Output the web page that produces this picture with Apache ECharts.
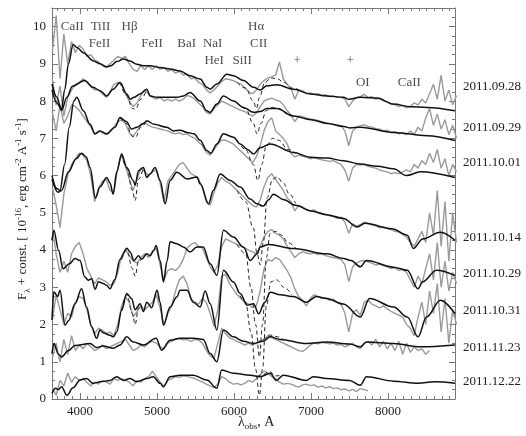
<!DOCTYPE html>
<html>
<head>
<meta charset="utf-8">
<script src="https://cdn.jsdelivr.net/npm/echarts@6/dist/echarts.min.js"></script>
<style>
html, body { margin: 0; padding: 0; background: #fff; }
#main { width: 526px; height: 436px; }
</style>
</head>
<body>
<div id="main"></div>
<script>
// wavelength grid of the observed (grey) spectra
var wl = [3640,3690,3740,3790,3840,3890,3940,3990,4040,4090,
	4140,4190,4240,4290,4340,4390,4440,4490,4540,4590,
	4640,4690,4740,4790,4840,4890,4940,4990,5040,5090,
	5140,5190,5240,5290,5340,5390,5440,5490,5540,5590,
	5640,5690,5740,5790,5840,5890,5940,5990,6040,6090,
	6140,6190,6240,6290,6340,6390,6440,6490,6540,6590,
	6640,6690,6740,6790,6840,6890,6940,6990,7040,7090,
	7140,7190,7240,7290,7340,7390,7440,7490,7540,7590,
	7640,7690,7740,7790,7840,7890,7940,7990,8040,8090,
	8140,8190,8240,8290,8340,8390,8440,8490,8540,8590,
	8640,8690,8740,8790,8840,8890];

// observed spectra, flux + const
var obs0928 = [9.3,10.3,8.6,9.8,9.0,9.6,9.3,9.5,9.4,9.2,
	9.25,9.1,9.05,8.95,8.9,9.0,9.1,9.2,9.15,9.2,
	9.0,8.85,8.8,8.95,8.85,8.95,8.85,8.95,8.85,8.9,
	8.8,8.85,8.75,8.8,8.7,8.72,8.6,8.62,8.5,8.45,
	8.3,8.22,8.3,8.42,8.52,8.6,8.58,8.55,8.5,8.45,
	8.35,8.25,8.2,8.3,8.45,8.55,8.62,8.65,8.7,9.05,
	8.6,8.45,8.35,8.05,8.3,8.28,8.2,8.22,8.18,8.2,
	8.15,8.17,8.12,8.14,8.1,8.1,8.05,7.85,8.0,8.1,
	8.12,8.18,8.1,8.12,8.05,8.08,8.0,7.98,7.92,7.9,
	7.85,7.88,7.82,7.86,7.95,7.9,8.05,7.95,8.2,8.45,
	8.05,8.7,8.0,8.3,7.9,8.15];
var obs0929 = [8.6,7.9,8.4,7.6,8.1,8.3,8.45,8.5,8.6,8.5,
	8.4,8.3,8.3,8.2,8.1,8.25,8.45,8.5,8.45,8.2,
	8.0,7.85,7.95,8.15,8.3,8.2,8.1,8.05,8.1,8.0,
	8.05,8.0,8.05,8.0,8.05,8.15,8.12,8.05,7.95,7.85,
	7.7,7.65,7.8,7.9,8.0,7.95,7.9,7.85,7.8,7.75,
	7.72,7.65,7.6,7.68,7.85,8.0,8.05,8.08,8.03,8.0,
	7.9,7.75,7.62,7.45,7.6,7.58,7.55,7.52,7.5,7.48,
	7.45,7.42,7.4,7.38,7.35,7.34,7.2,6.8,7.2,7.3,
	7.34,7.36,7.32,7.3,7.26,7.25,7.2,7.22,7.15,7.18,
	7.12,7.15,7.1,7.2,7.1,7.3,7.2,7.55,7.8,7.35,
	7.65,7.25,7.5,7.1,7.35,7.0];
var obs1001 = [7.7,7.2,7.9,7.4,7.6,7.9,7.85,7.75,7.6,7.45,
	7.3,7.1,7.2,7.15,7.1,7.2,7.3,7.45,7.5,7.4,
	7.15,7.05,7.2,7.35,7.42,7.35,7.3,7.28,7.25,7.22,
	7.2,7.15,7.12,7.15,7.1,7.12,7.05,7.0,6.9,6.8,
	6.62,6.55,6.7,6.85,6.95,6.95,6.9,6.85,6.75,6.65,
	6.55,6.45,6.35,6.5,6.8,7.2,7.45,7.55,7.2,7.1,
	7.0,6.85,6.6,6.5,6.55,6.52,6.5,6.45,6.48,6.45,
	6.42,6.4,6.38,6.4,6.35,6.3,6.15,5.85,6.2,6.3,
	6.28,6.3,6.25,6.22,6.2,6.15,6.12,6.1,6.05,6.08,
	6.05,6.1,6.15,6.1,6.3,6.2,6.4,6.3,6.6,6.35,
	6.7,6.2,6.45,6.0,6.3,6.1];
var obs1014 = [5.7,5.2,4.6,5.5,6.0,6.3,6.45,6.6,6.55,6.4,
	6.0,5.3,5.65,5.85,5.9,5.6,5.55,6.2,6.55,6.25,
	5.9,5.6,5.9,6.2,6.1,6.0,6.1,6.15,5.8,5.3,
	5.85,6.0,6.15,6.3,6.35,6.2,6.05,6.0,5.9,5.7,
	5.3,5.2,5.55,5.8,5.95,5.85,5.8,5.7,5.6,5.5,
	5.4,5.3,5.2,5.15,5.35,5.7,5.95,6.05,5.9,5.75,
	5.6,5.4,5.3,5.05,5.2,5.15,5.1,5.05,5.08,5.0,
	4.98,4.95,4.92,4.9,4.85,4.88,4.75,4.45,4.7,4.65,
	4.68,4.75,4.72,4.68,4.65,4.6,4.62,4.58,4.55,4.5,
	4.48,4.42,4.35,4.2,4.1,4.3,4.5,4.2,5.0,4.4,
	5.6,4.1,5.3,3.7,5.0,4.2];
var obs1029 = [4.6,3.9,3.4,3.7,3.4,3.9,4.1,4.2,3.9,3.5,
	3.3,3.1,3.25,3.2,3.15,3.05,3.1,3.4,3.85,4.0,
	3.85,3.7,3.65,3.8,3.9,3.8,3.95,4.05,3.6,3.2,
	3.45,3.5,3.45,3.55,3.75,4.05,4.15,4.2,4.1,4.05,
	3.8,3.55,3.4,3.6,4.1,4.3,4.25,4.2,4.15,4.1,
	4.05,4.0,3.95,3.9,4.1,4.35,4.5,4.55,4.45,4.4,
	4.3,4.1,3.95,3.8,3.9,3.95,3.92,3.9,3.92,3.88,
	3.9,3.85,3.82,3.8,3.78,3.75,3.6,3.15,3.55,3.65,
	3.7,3.72,3.68,3.65,3.6,3.62,3.58,3.55,3.5,3.52,
	3.45,3.48,3.4,3.2,3.0,3.3,3.1,3.5,3.9,3.2,
	4.2,3.0,3.7,2.9,3.4,3.1];
var obs1031 = [2.1,2.8,2.4,2.0,2.3,2.2,2.6,2.75,2.7,2.4,
	2.0,1.75,1.9,1.85,1.75,1.8,1.7,2.0,2.5,2.75,
	2.6,2.2,2.35,2.5,2.4,2.5,2.6,2.8,2.45,2.0,
	2.3,2.5,2.9,3.2,3.3,3.1,2.7,2.6,2.55,2.7,
	2.6,2.3,1.95,2.4,3.3,3.35,3.1,2.95,2.8,2.7,
	2.6,2.55,2.45,2.5,2.9,3.5,3.75,3.7,3.8,3.75,
	3.6,3.45,3.25,2.95,2.75,2.65,2.5,2.7,2.8,2.75,
	2.7,2.72,2.65,2.68,2.6,2.55,2.3,1.8,2.3,2.4,
	2.25,2.6,2.65,2.55,2.5,2.45,2.5,2.42,2.35,2.3,
	2.25,2.2,2.0,1.9,1.7,2.2,2.6,2.0,2.9,2.3,
	3.1,1.8,2.7,1.5,2.4,2.0];
var obs1123 = [1.1,1.5,1.0,1.6,1.2,1.7,1.3,1.45,1.35,1.5,
	1.4,1.3,1.35,1.45,1.35,1.4,1.45,1.5,1.55,1.6,
	1.45,1.3,1.35,1.45,1.4,1.5,1.55,1.5,1.4,1.35,
	1.5,1.55,1.6,1.62,1.58,1.6,1.55,1.6,1.58,1.5,
	1.3,1.15,1.1,1.5,1.9,1.75,1.65,1.6,1.55,1.5,
	1.45,1.5,1.45,1.5,1.55,1.6,1.7,1.65,1.6,1.55,
	1.5,1.45,1.4,1.35,1.3,1.28,1.35,1.45,1.5,1.48,
	1.52,1.5,1.48,1.5,1.45,1.47,1.4,1.45,1.5,1.4,
	1.35,1.5,1.55,1.45,1.6,1.4,1.55,1.35,1.5,1.3,
	1.55,1.2,1.5,1.25,1.4,1.3,1.35,1.2,1.3];
var obs1222 = [0.3,0.1,0.5,0.35,0.7,0.45,0.6,0.5,0.55,0.45,
	0.35,0.45,0.4,0.5,0.45,0.4,0.55,0.5,0.55,0.5,
	0.45,0.35,0.5,0.45,0.55,0.6,0.75,0.6,0.45,0.35,
	0.5,0.55,0.6,0.58,0.62,0.6,0.58,0.55,0.5,0.45,
	0.4,0.35,0.3,0.4,0.6,0.55,0.45,0.4,0.42,0.38,
	0.42,0.5,0.45,0.55,0.65,0.75,0.7,0.6,0.55,0.45,
	0.4,0.42,0.4,0.35,0.32,0.38,0.4,0.36,0.38,0.32,
	0.35,0.3,0.33,0.28,0.3,0.25,0.27,0.22,0.26,0.2,
	0.28,0.25,0.22];

// model spectra without hydrogen [wavelength, flux]
var mod0928 = [[3636,8.3],[3700,7.95],[3760,7.78],[3800,8.3],[3850,9.0],[3910,9.52],[3960,9.44],[4043,9.3],[4173,9.08],[4260,9.0],[4347,8.92],[4400,8.95],[4477,9.06],[4563,9.13],[4650,9.08],[4737,8.99],[4823,8.95],[4910,8.95],[5040,8.9],[5170,8.86],[5300,8.81],[5430,8.68],[5560,8.59],[5647,8.37],[5690,8.32],[5777,8.46],[5907,8.72],[5993,8.68],[6123,8.55],[6253,8.37],[6340,8.3],[6427,8.41],[6557,8.44],[6773,8.32],[6990,8.19],[7207,8.14],[7423,8.1],[7490,8.05],[7640,8.1],[7857,8.08],[8073,7.92],[8290,7.85],[8507,7.83],[8870,7.74]];
var mod0929 = [[3636,8.46],[3700,8.1],[3760,7.75],[3830,8.1],[3900,8.4],[4060,8.55],[4170,8.37],[4260,8.28],[4347,8.14],[4430,8.32],[4520,8.5],[4607,8.19],[4650,8.05],[4700,8.1],[4780,8.19],[4867,8.32],[4910,8.14],[5000,8.1],[5127,8.1],[5260,8.1],[5343,8.14],[5430,8.23],[5560,8.0],[5647,7.74],[5690,7.7],[5777,7.92],[5863,8.14],[5993,8.0],[6123,7.83],[6253,7.7],[6340,7.72],[6427,7.8],[6557,7.8],[6773,7.6],[7000,7.5],[7207,7.4],[7430,7.32],[7500,7.28],[7640,7.3],[8073,7.16],[8507,7.07],[8870,6.94]];
var mod1001 = [[3636,6.0],[3700,5.65],[3740,5.6],[3800,6.3],[3860,7.3],[3920,8.0],[3957,8.1],[4043,7.74],[4130,7.38],[4195,7.12],[4260,7.2],[4347,7.12],[4455,7.3],[4520,7.56],[4600,7.45],[4670,7.25],[4740,7.3],[4823,7.4],[4867,7.47],[4960,7.38],[5127,7.3],[5213,7.2],[5300,7.22],[5390,7.16],[5480,7.12],[5560,6.95],[5647,6.67],[5700,6.6],[5777,6.85],[5863,7.12],[5993,7.03],[6080,6.85],[6170,6.71],[6253,6.58],[6340,6.75],[6470,6.85],[6773,6.62],[6990,6.49],[7207,6.47],[7420,6.4],[7640,6.31],[7860,6.25],[8073,6.18],[8240,6.0],[8420,6.1],[8870,5.95]];
var mod1014 = [[3636,5.9],[3714,5.55],[3760,5.6],[3850,6.1],[3950,6.45],[4020,6.6],[4080,6.5],[4130,6.22],[4200,5.4],[4260,5.7],[4347,5.95],[4390,5.8],[4430,5.5],[4477,6.1],[4540,6.58],[4607,6.22],[4690,5.87],[4715,5.75],[4760,6.13],[4823,6.22],[4867,5.95],[4910,6.04],[4975,6.22],[5040,5.87],[5105,5.24],[5170,5.87],[5257,6.09],[5390,5.91],[5520,5.96],[5560,5.78],[5670,5.24],[5730,5.6],[5820,6.04],[5950,5.87],[6080,5.69],[6210,5.37],[6300,5.24],[6380,5.18],[6450,5.35],[6510,5.5],[6650,5.35],[6800,5.2],[7000,5.05],[7200,4.95],[7420,4.85],[7600,4.62],[7700,4.72],[8050,4.57],[8250,4.4],[8330,4.04],[8450,4.3],[8680,4.48],[8870,4.26]];
var mod1029 = [[3636,4.26],[3660,4.53],[3720,4.0],[3780,3.5],[3860,3.63],[3935,3.77],[4000,3.72],[4060,3.28],[4108,3.19],[4150,3.23],[4195,2.95],[4240,3.15],[4300,3.1],[4347,3.05],[4390,2.96],[4450,3.2],[4520,3.75],[4607,4.05],[4650,3.95],[4700,3.72],[4760,3.85],[4800,3.75],[4867,3.9],[4910,3.85],[4960,4.0],[4988,4.12],[5040,3.72],[5083,3.14],[5130,3.7],[5170,4.22],[5257,4.17],[5343,4.08],[5430,3.95],[5517,4.08],[5600,4.08],[5690,3.63],[5777,3.32],[5863,4.53],[5993,4.35],[6123,4.08],[6210,3.72],[6300,3.9],[6340,4.08],[6450,4.15],[6773,4.04],[7207,3.9],[7420,3.77],[7520,3.72],[7640,3.55],[7720,3.72],[8073,3.54],[8250,3.46],[8390,2.96],[8450,3.15],[8630,3.46],[8870,3.32]];
var mod1031 = [[3636,2.12],[3660,2.88],[3710,2.75],[3740,2.92],[3805,1.98],[3850,2.1],[3935,2.56],[4020,2.96],[4085,2.47],[4150,1.94],[4215,1.63],[4260,1.85],[4300,1.78],[4390,1.71],[4433,1.67],[4477,1.8],[4540,2.38],[4607,2.83],[4670,2.7],[4715,2.4],[4780,2.56],[4823,2.35],[4867,2.6],[4930,2.45],[5000,2.92],[5040,2.6],[5083,1.98],[5170,2.47],[5257,2.74],[5300,2.92],[5390,2.92],[5470,2.6],[5560,2.47],[5625,2.9],[5690,2.56],[5777,1.85],[5863,3.46],[5993,3.14],[6080,2.83],[6170,2.52],[6253,2.56],[6320,2.29],[6400,2.6],[6470,2.87],[6600,2.8],[6773,2.75],[6940,2.6],[7070,2.75],[7200,2.7],[7420,2.55],[7640,2.2],[7760,2.7],[8073,2.47],[8250,2.2],[8390,1.67],[8500,2.2],[8680,2.65],[8870,2.29]];
var mod1123 = [[3636,1.22],[3660,1.49],[3720,1.2],[3760,1.13],[3850,1.3],[3935,1.44],[4130,1.49],[4215,1.38],[4300,1.42],[4433,1.36],[4520,1.45],[4607,1.67],[4693,1.53],[4823,1.45],[4988,1.63],[5060,1.31],[5170,1.58],[5300,1.63],[5470,1.63],[5600,1.6],[5690,1.22],[5777,1.0],[5863,1.85],[5993,1.67],[6123,1.55],[6253,1.49],[6380,1.55],[6470,1.67],[6600,1.6],[6940,1.49],[7200,1.53],[7500,1.48],[7640,1.4],[7720,1.53],[8073,1.49],[8420,1.4],[8870,1.45]];
var mod1222 = [[3636,0.15],[3680,0.29],[3720,0.25],[3760,0.33],[3830,0.1],[3910,0.3],[4000,0.51],[4085,0.55],[4170,0.42],[4260,0.46],[4390,0.5],[4477,0.6],[4563,0.5],[4650,0.55],[4737,0.46],[4867,0.55],[4950,0.6],[5040,0.42],[5083,0.33],[5170,0.6],[5300,0.64],[5470,0.64],[5647,0.51],[5777,0.29],[5840,0.78],[5993,0.69],[6210,0.64],[6340,0.6],[6470,0.69],[6550,0.5],[6640,0.64],[6940,0.5],[7030,0.6],[7200,0.55],[7500,0.5],[7640,0.37],[7720,0.6],[8073,0.48],[8390,0.42],[8600,0.46],[8870,0.42]];

// model spectra with hydrogen (only where they differ)
var hyd0928 = [[6040,8.5],[6150,8.35],[6250,8.0],[6290,7.8],[6330,8.1],[6400,8.5],[6480,8.62],[6560,8.6],[6650,8.5],[6750,8.35],[6850,8.3]];
var hyd0929b = [[4520,8.5],[4607,8.15],[4680,7.8],[4720,7.78],[4790,8.05],[4867,8.32]];
var hyd0929a = [[6040,7.95],[6150,7.8],[6250,7.4],[6300,7.12],[6350,7.4],[6420,7.75],[6500,7.83],[6580,7.8],[6700,7.65],[6800,7.55]];
var hyd1001b = [[4520,7.56],[4600,7.4],[4680,7.05],[4720,7.03],[4790,7.3],[4867,7.47]];
var hyd1001a = [[6040,6.95],[6150,6.7],[6250,6.3],[6310,5.87],[6360,6.3],[6420,6.8],[6500,7.0],[6580,6.95],[6700,6.7],[6800,6.6]];
var hyd1014b = [[4540,6.58],[4607,6.2],[4680,5.6],[4715,5.33],[4760,5.9],[4823,6.22]];
var hyd1014a = [[6040,5.6],[6150,5.3],[6250,4.6],[6300,3.9],[6340,3.6],[6380,4.2],[6430,5.4],[6500,5.9],[6560,5.96],[6640,5.8],[6720,5.5],[6800,5.25]];
var hyd1029b = [[4540,3.75],[4607,4.0],[4680,3.5],[4715,3.3],[4760,3.7],[4823,3.8]];
var hyd1029a = [[6040,4.15],[6150,3.9],[6220,3.0],[6280,2.0],[6330,1.13],[6370,2.0],[6420,3.8],[6470,4.45],[6540,4.5],[6620,4.4],[6700,4.2],[6800,4.05]];
var hyd1031b = [[4540,2.38],[4607,2.8],[4680,2.3],[4715,2.0],[4760,2.45],[4823,2.35]];
var hyd1031a = [[6040,2.95],[6150,2.6],[6220,1.8],[6280,0.8],[6330,0.1],[6370,0.8],[6420,2.5],[6480,3.15],[6550,3.2],[6650,3.0],[6750,2.8]];
var hyd1123a = [[6300,1.5],[6380,1.6],[6460,1.72],[6540,1.68],[6640,1.6]];
var hyd1222a = [[6300,0.6],[6380,0.66],[6460,0.74],[6540,0.62],[6640,0.64]];

var dates = ['2011.09.28', '2011.09.29', '2011.10.01', '2011.10.14', '2011.10.29', '2011.10.31', '2011.11.23', '2011.12.22'];
var dateLevels = [8.38, 7.29, 6.35, 4.34, 3.38, 2.38, 1.39, 0.46];

var idNames = ['CaII', 'TiII', 'FeII', 'H\u03b2', 'FeII', 'BaI', 'NaI', 'HeI', 'H\u03b1', 'CII', 'SiII', '+', '+', 'OI', 'CaII'];
var idWave = [3900, 4266, 4254, 4644, 4936, 5385, 5723, 5742, 6288, 6320, 6106, 6821, 7510, 7672, 8277];
var idLevel = [10.0, 10.0, 9.54, 10.0, 9.54, 9.54, 9.54, 9.08, 10.0, 9.54, 9.08, 9.08, 9.08, 8.49, 8.49];

var xMajor = [4000, 5000, 6000, 7000, 8000];
var yMajor = [0, 1, 2, 3, 4, 5, 6, 7, 8, 9, 10];
var xMin = 3636, xMax = 8870, yMin = 0, yMax = 10.5;

var xMinor = [];
for (var w = 3700; w < xMax; w += 100) xMinor.push(w);
var yMinor = [];
for (var f = 0.25; f < yMax; f += 0.25) yMinor.push(Math.round(f * 100) / 100);

var FONT = '"Liberation Serif", "DejaVu Serif", serif';
var AXC = '#777';

function onGrid(vals) {
	var out = [];
	for (var i = 0; i < vals.length; i++) {
		if (vals[i] != null) out.push([wl[i], vals[i]]);
	}
	return out;
}

function plain(v) {
	return String(v);
}

function xAx(pos, ticks, len, labels, line) {
	return {
		type: 'value', min: xMin, max: xMax, position: pos,
		axisLine: { show: line, onZero: false, lineStyle: { color: AXC, width: 1 } },
		axisTick: { show: true, inside: true, length: len, customValues: ticks, lineStyle: { color: AXC } },
		axisLabel: labels ? { show: true, customValues: ticks, formatter: plain, color: '#222', fontSize: 13, fontFamily: FONT, margin: 6 } : { show: false },
		splitLine: { show: false }
	};
}
function yAx(pos, ticks, len, labels, line) {
	return {
		type: 'value', min: yMin, max: yMax, position: pos,
		axisLine: { show: line, onZero: false, lineStyle: { color: AXC, width: 1 } },
		axisTick: { show: true, inside: true, length: len, customValues: ticks, lineStyle: { color: AXC } },
		axisLabel: labels ? { show: true, customValues: ticks, formatter: plain, color: '#222', fontSize: 13, fontFamily: FONT, margin: 6 } : { show: false },
		splitLine: { show: false }
	};
}

var greySet = [obs0928, obs0929, obs1001, obs1014, obs1029, obs1031, obs1123, obs1222];
var modelSet = [mod0928, mod0929, mod1001, mod1014, mod1029, mod1031, mod1123, mod1222];
var hydSet = [hyd0928, hyd0929b, hyd0929a, hyd1001b, hyd1001a, hyd1014b, hyd1014a, hyd1029b, hyd1029a, hyd1031b, hyd1031a, hyd1123a, hyd1222a];

var series = [];
for (var i = 0; i < greySet.length; i++) {
	series.push({
		type: 'line', data: onGrid(greySet[i]), symbol: 'none', silent: true,
		lineStyle: { color: '#9a9a9a', width: 1.4 }, z: 2
	});
}
for (var j = 0; j < hydSet.length; j++) {
	series.push({
		type: 'line', data: hydSet[j], symbol: 'none', silent: true, smooth: 0.4, smoothMonotone: 'x',
		lineStyle: { color: '#222', width: 1, type: [4, 3] }, z: 3
	});
}
for (var k = 0; k < modelSet.length; k++) {
	series.push({
		type: 'line', data: modelSet[k], symbol: 'none', silent: true, smooth: 0.35, smoothMonotone: 'x',
		lineStyle: { color: '#111', width: 1.5 }, z: 4
	});
}
// line identifications
var idData = [];
for (var m = 0; m < idNames.length; m++) idData.push({ value: [idWave[m], idLevel[m]], name: idNames[m] });
series.push({
	type: 'scatter', data: idData, symbolSize: 0, silent: true, z: 5,
	label: { show: true, position: 'inside', formatter: function (p) { return p.name; }, color: '#222', fontSize: 13, fontFamily: FONT }
});

var chart = echarts.init(document.getElementById('main'), null, { renderer: 'canvas' });
chart.setOption({
	animation: false,
	backgroundColor: '#fff',
	grid: { left: 52, right: 71, top: 8, bottom: 37, containLabel: false },
	xAxis: [
		xAx('bottom', xMajor, 6, true, true),
		xAx('bottom', xMinor, 3, false, false),
		xAx('top', xMajor, 6, false, true),
		xAx('top', xMinor, 3, false, false)
	],
	yAxis: [
		yAx('left', yMajor, 6, true, true),
		yAx('left', yMinor, 3, false, false),
		yAx('right', yMajor, 6, false, true),
		yAx('right', yMinor, 3, false, false)
	],
	series: series
});

// epoch labels on the right and axis titles
var gfx = [];
for (var d = 0; d < dates.length; d++) {
	var p = chart.convertToPixel({ xAxisIndex: 0, yAxisIndex: 0 }, [xMax, dateLevels[d]]);
	gfx.push({
		type: 'text', x: p[0] + 8, y: p[1], silent: true,
		style: { text: dates[d], fill: '#222', font: '13px ' + FONT, verticalAlign: 'middle' }
	});
}
gfx.push({
	type: 'text', x: 238, y: 413, silent: true,
	style: {
		text: '{m|\u03bb}{s|obs}{m|, A}',
		rich: {
			m: { fontSize: 14, fontFamily: FONT, fill: '#222', lineHeight: 18 },
			s: { fontSize: 9, fontFamily: FONT, fill: '#222', verticalAlign: 'bottom' }
		}
	}
});
gfx.push({
	type: 'text', x: 14, y: 300, rotation: Math.PI / 2, silent: true,
	style: {
		text: '{m|F}{s|\u03bb}{m| + const. [ 10}{u|-16}{m|, erg cm}{u|-2}{m| A}{u|-1}{m| s}{u|-1}{m|]}',
		rich: {
			m: { fontSize: 13, fontFamily: FONT, fill: '#222', lineHeight: 18 },
			s: { fontSize: 9, fontFamily: FONT, fill: '#222', verticalAlign: 'bottom' },
			u: { fontSize: 9, fontFamily: FONT, fill: '#222', verticalAlign: 'top' }
		}
	}
});
chart.setOption({ graphic: gfx });
</script>
</body>
</html>
